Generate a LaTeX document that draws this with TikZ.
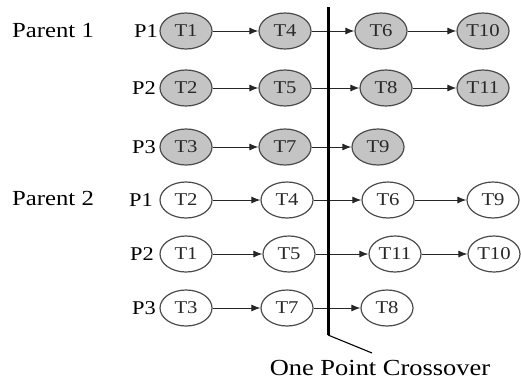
\documentclass[tikz,border=0pt]{standalone}
\usepackage{fontspec}
\setmainfont[FakeStretch=1.15]{Liberation Serif}
\usetikzlibrary{arrows.meta,shapes.geometric}
\definecolor{nodegray}{RGB}{196,196,196}
\definecolor{edgegray}{RGB}{75,75,75}
\definecolor{txtgray}{RGB}{40,40,40}
\tikzset{
  tnode/.style={ellipse,draw=edgegray,line width=1.2pt,minimum width=52pt,minimum height=36pt,inner sep=0pt,
    font=\fontsize{18}{18}\selectfont,text=txtgray},
  gnode/.style={tnode,fill=nodegray},
  wnode/.style={tnode,fill=white},
  plabel/.style={anchor=east,inner sep=0pt,font=\fontsize{19.5}{19.5}\selectfont},
  parlabel/.style={anchor=west,inner sep=0pt,font=\fontsize{21.5}{21.5}\selectfont},
  link/.style={-{Latex[length=9pt,width=7pt]},line width=1pt,draw=black!85},
}
\begin{document}
\begin{tikzpicture}[x=1pt,y=-1pt]
\useasboundingbox (0,0) rectangle (521,380);
% Parent 1
\node[parlabel] (par1) at (12,31) {Parent 1};
\node[plabel] (a1) at (158,31) {P1};
\node[plabel] (a2) at (156,88) {P2};
\node[plabel] (a3) at (156,147) {P3};
\node[gnode] (a11) at (186,31) {T1};
\node[gnode] (a12) at (285,31) {T4};
\node[gnode] (a13) at (381,31) {T6};
\node[gnode] (a14) at (483,31) {T10};
\node[gnode] (a21) at (186,88) {T2};
\node[gnode] (a22) at (285,88) {T5};
\node[gnode] (a23) at (386,88) {T8};
\node[gnode] (a24) at (483,88) {T11};
\node[gnode] (a31) at (186,147) {T3};
\node[gnode] (a32) at (285,147) {T7};
\node[gnode] (a33) at (378,147) {T9};
% Parent 2
\node[parlabel] (par2) at (12,198) {Parent 2};
\node[plabel] (b1) at (153,200) {P1};
\node[plabel] (b2) at (154,254) {P2};
\node[plabel] (b3) at (156,308) {P3};
\node[wnode] (b11) at (186,200) {T2};
\node[wnode] (b12) at (287,200) {T4};
\node[wnode] (b13) at (388,200) {T6};
\node[wnode] (b14) at (493,200) {T9};
\node[wnode] (b21) at (186,254) {T1};
\node[wnode] (b22) at (289,254) {T5};
\node[wnode] (b23) at (395,254) {T11};
\node[wnode] (b24) at (494,254) {T10};
\node[wnode] (b31) at (186,308) {T3};
\node[wnode] (b32) at (287,308) {T7};
\node[wnode] (b33) at (387,308) {T8};
% links
\foreach \a/\b in {a11/a12,a12/a13,a13/a14,a21/a22,a22/a23,a23/a24,a31/a32,a32/a33,
                   b11/b12,b12/b13,b13/b14,b21/b22,b22/b23,b23/b24,b31/b32,b32/b33}
  \draw[link] (\a) -- (\b);
% crossover line
\coordinate (ctop) at (328,7);
\coordinate (cbot) at (328,335);
\coordinate (cend) at (372,353);
\draw[line width=3pt] (ctop) -- (cbot);
\draw[line width=1.1pt] (cbot) -- (cend);
\node[inner sep=0pt,font=\fontsize{23}{23}\selectfont] (cross) at (380,368) {One Point Crossover};
\end{tikzpicture}
\end{document}
